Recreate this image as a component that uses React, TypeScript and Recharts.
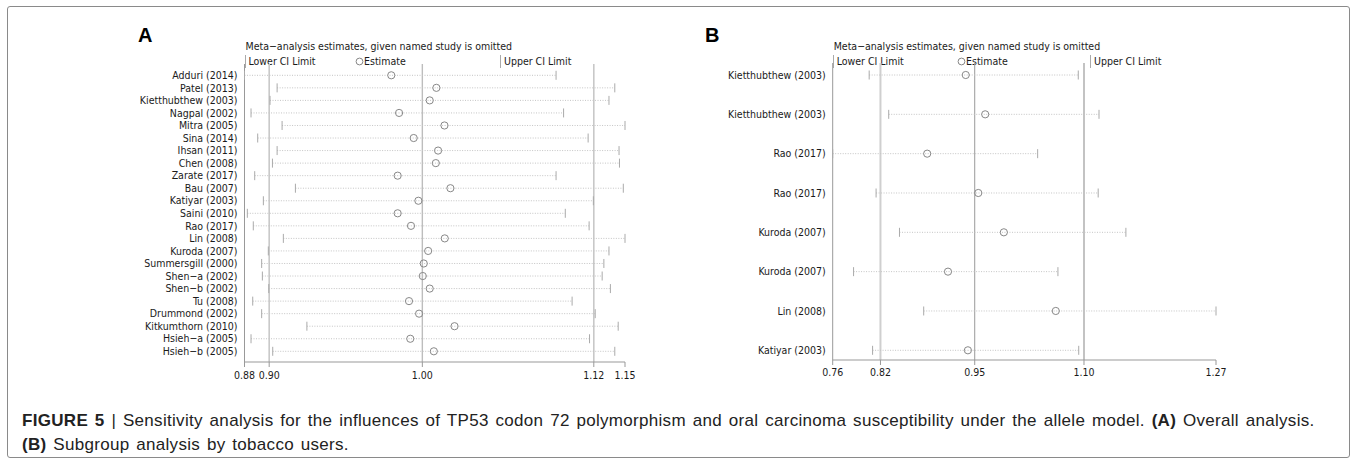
import React from "react";
import { ScatterChart, Scatter, XAxis, YAxis, ReferenceLine } from "recharts";

// Panel A - overall analysis
const studiesA = [
  "Adduri (2014)",
  "Patel (2013)",
  "Kietthubthew (2003)",
  "Nagpal (2002)",
  "Mitra (2005)",
  "Sina (2014)",
  "Ihsan (2011)",
  "Chen (2008)",
  "Zarate (2017)",
  "Bau (2007)",
  "Katiyar (2003)",
  "Saini (2010)",
  "Rao (2017)",
  "Lin (2008)",
  "Kuroda (2007)",
  "Summersgill (2000)",
  "Shen−a (2002)",
  "Shen−b (2002)",
  "Tu (2008)",
  "Drummond (2002)",
  "Kitkumthorn (2010)",
  "Hsieh−a (2005)",
  "Hsieh−b (2005)",
];
const lowerA = [
  0.8786, 0.9016, 0.8966, 0.8832, 0.9051, 0.8879, 0.9016, 0.8983, 0.8858,
  0.9145, 0.8919, 0.8806, 0.8848, 0.906, 0.8954, 0.8907, 0.8912, 0.8957,
  0.8844, 0.8907, 0.9226, 0.8832, 0.8985,
];
const estimateA = [
  0.9821, 1.0139, 1.0092, 0.9876, 1.0196, 0.9979, 1.0151, 1.0135, 0.9866,
  1.0238, 1.0012, 0.9866, 0.996, 1.0198, 1.0081, 1.005, 1.0043, 1.0092,
  0.9946, 1.0017, 1.0267, 0.9955, 1.0121,
];
const upperA = [
  1.0983, 1.1397, 1.1356, 1.1036, 1.1469, 1.1209, 1.1427, 1.143, 1.0983,
  1.1457, 1.1246, 1.1048, 1.1216, 1.1469, 1.1356, 1.132, 1.1308, 1.1366,
  1.1096, 1.1259, 1.1421, 1.1219, 1.1397,
];
// pooled lower / estimate / upper
const overallA = [0.896, 1.004, 1.1249];
const rangeA = [0.8786, 1.1469];

// Panel B - tobacco users
const studiesB = [
  "Kietthubthew (2003)",
  "Kietthubthew (2003)",
  "Rao (2017)",
  "Rao (2017)",
  "Kuroda (2007)",
  "Kuroda (2007)",
  "Lin (2008)",
  "Katiyar (2003)",
];
const lowerB = [0.8071, 0.8334, 0.758, 0.8164, 0.8479, 0.7861, 0.8805, 0.8117];
const estimateB = [0.9371, 0.9633, 0.8852, 0.954, 0.9884, 0.9132, 1.0583, 0.94];
const upperB = [1.0886, 1.1165, 1.0339, 1.1154, 1.1527, 1.0612, 1.274, 1.0892];
const overallB = [0.8223, 0.9492, 1.0963];
const rangeB = [0.758, 1.274];

const FONT = '"DejaVu Sans Condensed", "Liberation Sans Narrow", sans-serif';
const FS = 10.5;

const Cap = (props: any) => (
  <line x1={props.cx} x2={props.cx} y1={props.cy - 4.5} y2={props.cy + 4.5} stroke="#aaa" strokeWidth={1} />
);
const Dot = (props: any) => (
  <circle cx={props.cx} cy={props.cy} r={3.6} fill="none" stroke="#888" strokeWidth={1} />
);

interface ForestProps {
  names: string[];
  lower: number[];
  est: number[];
  upper: number[];
  overall: number[];
  range: number[];
  width: number;
  axisWidth: number;
  margin: { top: number; right: number; bottom: number; left: number };
  pad: { top: number; bottom: number };
  lineColors: string[];
  lineWidths: number[];
  tickMargin: number;
}

function Forest(p: ForestProps) {
  const rows = p.names.map((n, i) => ({ row: i, lo: p.lower[i], est: p.est[i], hi: p.upper[i] }));
  const loPts = rows.map((r) => ({ x: r.lo, row: r.row }));
  const hiPts = rows.map((r) => ({ x: r.hi, row: r.row }));
  const estPts = rows.map((r) => ({ x: r.est, row: r.row }));
  const ticks = [p.range[0], ...p.overall, p.range[1]];

  return (
    <ScatterChart width={p.width} height={400} margin={p.margin}>
      <XAxis
        type="number"
        dataKey="x"
        domain={p.range}
        ticks={ticks}
        interval={0}
        tickFormatter={(v: number) => v.toFixed(2)}
        tickSize={5}
        tickMargin={p.tickMargin}
        height={30}
        stroke="#999"
        tick={{ fill: "#1a1a1a", fontSize: FS, fontFamily: FONT }}
      />
      <YAxis
        type="number"
        dataKey="row"
        domain={[0, p.names.length - 1]}
        reversed
        ticks={rows.map((r) => r.row)}
        interval={0}
        tickFormatter={(v: number) => p.names[v]}
        tickSize={0}
        tickMargin={7}
        width={p.axisWidth}
        padding={p.pad}
        stroke="#999"
        tick={{ fill: "#1a1a1a", fontSize: FS, fontFamily: FONT }}
      />
      {p.overall.map((v, i) => (
        <ReferenceLine key={`v-${i}`} x={v} stroke={p.lineColors[i]} strokeWidth={p.lineWidths[i]} />
      ))}
      {rows.map((r) => (
        <ReferenceLine
          key={`ci-${r.row}`}
          segment={[
            { x: r.lo, y: r.row },
            { x: r.hi, y: r.row },
          ]}
          stroke="#c4c4c4"
          strokeDasharray="1 1.5"
        />
      ))}
      <Scatter data={loPts} shape={Cap} isAnimationActive={false} />
      <Scatter data={hiPts} shape={Cap} isAnimationActive={false} />
      <Scatter data={estPts} shape={Dot} isAnimationActive={false} />
    </ScatterChart>
  );
}

function Header({ letter, letterX, x, estX, upX }: { letter: string; letterX: number; x: number; estX: number; upX: number }) {
  const txt: React.CSSProperties = { position: "absolute", fontFamily: FONT, fontSize: FS, color: "#1a1a1a", whiteSpace: "nowrap", lineHeight: "13px" };
  const bar: React.CSSProperties = { position: "absolute", top: 55, width: 1, height: 13, background: "#aaa" };
  return (
    <>
      <div style={{ position: "absolute", left: letterX, top: 24, fontFamily: "Liberation Sans, Arial, sans-serif", fontWeight: 700, fontSize: 20, lineHeight: "22px" }}>
        {letter}
      </div>
      <div style={{ ...txt, left: x + 1, top: 40 }}>Meta−analysis estimates, given named study is omitted</div>
      <div style={{ ...bar, left: x }} />
      <div style={{ ...txt, left: x + 4, top: 55 }}>Lower CI Limit</div>
      <svg style={{ position: "absolute", left: estX - 4, top: 57 }} width={9} height={9}>
        <circle cx={4.5} cy={4.5} r={3.4} fill="none" stroke="#888" />
      </svg>
      <div style={{ ...txt, left: estX + 5, top: 55 }}>Estimate</div>
      <div style={{ ...bar, left: upX }} />
      <div style={{ ...txt, left: upX + 4, top: 55 }}>Upper CI Limit</div>
    </>
  );
}

export default function App() {
  return (
    <div style={{ position: "absolute", left: 0, top: 0, width: 1357, height: 465, background: "#fff" }}>
      <div style={{ position: "absolute", left: 7, top: 6, width: 1341, height: 450, border: "1.5px solid #8a8a8a", borderRadius: 3 }} />

      <Header letter="A" letterX={138} x={244.5} estX={359} upX={500} />
      <div style={{ position: "absolute", left: 0, top: 0 }}>
        <Forest
          names={studiesA}
          lower={lowerA}
          est={estimateA}
          upper={upperA}
          overall={overallA}
          range={rangeA}
          width={680}
          axisWidth={200}
          margin={{ top: 64, right: 55, bottom: 8, left: 44.5 }}
          pad={{ top: 11.3, bottom: 10.7 }}
          lineColors={["#c8c8c8", "#bdbdbd", "#c8c8c8"]}
          lineWidths={[1.6, 1.4, 1.6]}
          tickMargin={5}
        />
      </div>

      <Header letter="B" letterX={705} x={832.7} estX={961} upX={1090} />
      <div style={{ position: "absolute", left: 680, top: 0 }}>
        <Forest
          names={studiesB}
          lower={lowerB}
          est={estimateB}
          upper={upperB}
          overall={overallB}
          range={rangeB}
          width={677}
          axisWidth={150}
          margin={{ top: 63, right: 141, bottom: 10, left: 2.7 }}
          pad={{ top: 12, bottom: 9.7 }}
          lineColors={["#cfcfcf", "#999", "#aaa"]}
          lineWidths={[2, 1, 1.4]}
          tickMargin={3.5}
        />
      </div>

      <div style={{ position: "absolute", left: 22, top: 409, width: 1330, fontFamily: "Liberation Sans, Arial, sans-serif", fontSize: 17, letterSpacing: 0.3, wordSpacing: 1.8, lineHeight: "24px", color: "#222", whiteSpace: "nowrap" }}>
        <b>FIGURE 5</b> | Sensitivity analysis for the influences of TP53 codon 72 polymorphism and oral carcinoma susceptibility under the allele model. <b>(A)</b> Overall analysis.
        <br />
        <b>(B)</b> Subgroup analysis by tobacco users.
      </div>
    </div>
  );
}
